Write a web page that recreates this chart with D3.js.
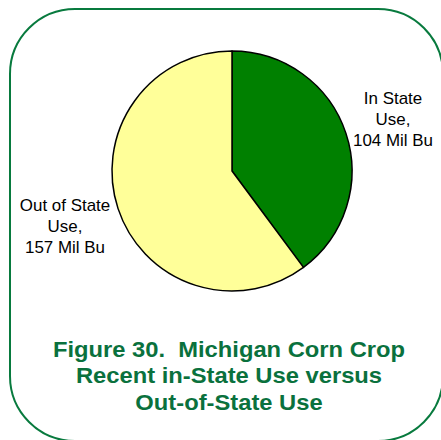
<!DOCTYPE html>
<html>
<head>
<meta charset="utf-8">
<script src="https://cdn.jsdelivr.net/npm/d3@7"></script>
<style>
  html, body { margin: 0; padding: 0; background: #fff; }
  svg { display: block; }
  text { font-family: Arial, "Liberation Sans", sans-serif; }
</style>
</head>
<body>
<svg id="chart" width="441" height="440"></svg>
<script>
// Michigan corn use, million bushels
const categories = ["In State Use", "Out of State Use"];
const values = [104, 157];
const sliceLabels = [
  ["In State", "Use,", "104 Mil Bu"],
  ["Out of State", "Use,", "157 Mil Bu"]
];
const sliceColors = ["#008000", "#ffff99"];
const titleLines = [
  "Figure 30.  Michigan Corn Crop",
  "Recent in-State Use versus",
  "Out-of-State Use"
];

const svg = d3.select("#chart");

// rounded frame
svg.append("rect")
  .attr("x", 10).attr("y", 9)
  .attr("width", 433).attr("height", 432)
  .attr("rx", 65).attr("ry", 65)
  .attr("fill", "none")
  .attr("stroke", "#087a3e")
  .attr("stroke-width", 2);

// pie
const cx = 232, cy = 171, radius = 120;
const pie = d3.pie().sort(null).value(d => d.value);
const arcs = pie(categories.map((c, i) => ({ name: c, value: values[i] })));
const arc = d3.arc().innerRadius(0).outerRadius(radius);

const g = svg.append("g").attr("transform", `translate(${cx},${cy})`);
g.selectAll("path")
  .data(arcs)
  .join("path")
  .attr("d", arc)
  .attr("fill", (d, i) => sliceColors[i])
  .attr("stroke", "#000")
  .attr("stroke-width", 1.5)
  .attr("stroke-linejoin", "round");

// slice labels
const labelPos = [
  { x: 393, y: 104 },
  { x: 65, y: 211 }
];
const labelStep = 21;
sliceLabels.forEach((lines, i) => {
  const t = svg.append("text")
    .attr("transform", `translate(${labelPos[i].x},${labelPos[i].y}) scale(1.06,1)`)
    .attr("text-anchor", "middle")
    .attr("font-size", 16)
    .attr("fill", "#000");
  lines.forEach((ln, j) => {
    t.append("tspan").attr("x", 0).attr("y", j * labelStep).text(ln);
  });
});

// title
const title = svg.append("text")
  .attr("transform", "translate(229,357) scale(1.08,1)")
  .attr("text-anchor", "middle")
  .attr("font-size", 22)
  .attr("font-weight", "bold")
  .attr("fill", "#0a713d")
  .attr("xml:space", "preserve")
  .style("white-space", "pre");
titleLines.forEach((ln, j) => {
  title.append("tspan").attr("x", 0).attr("y", j * 26.5).text(ln);
});
</script>
</body>
</html>
